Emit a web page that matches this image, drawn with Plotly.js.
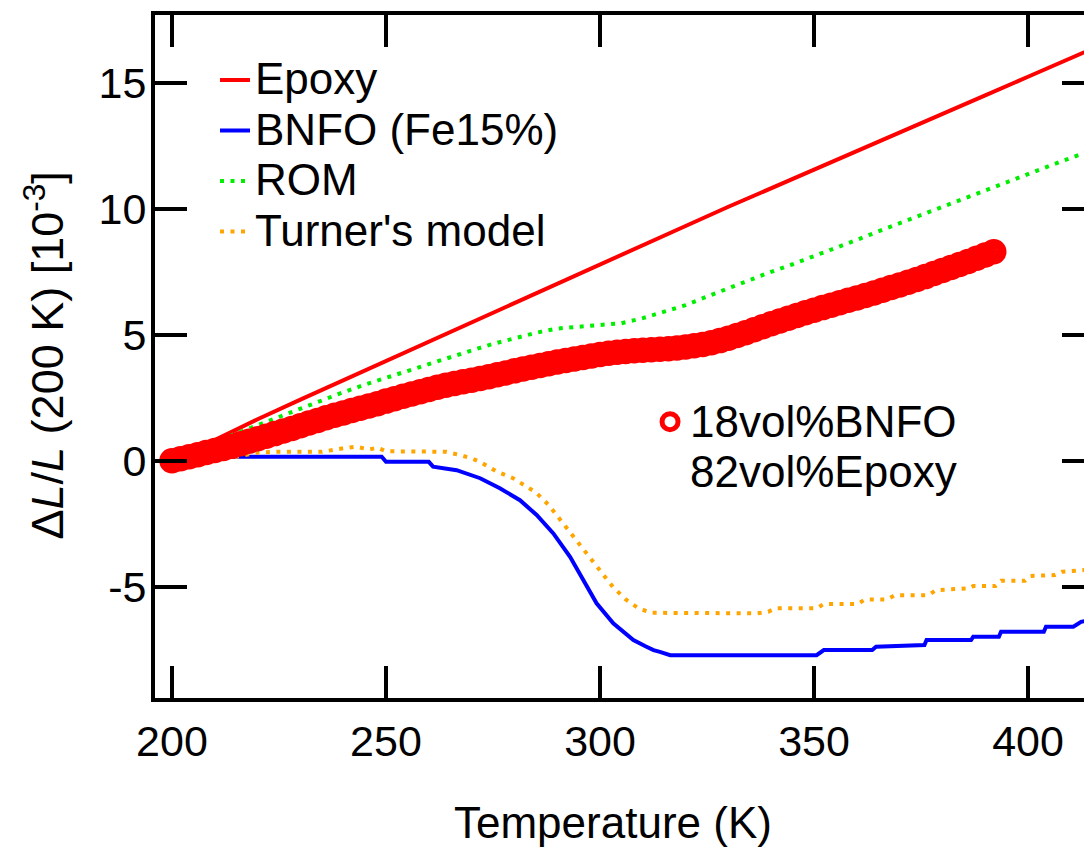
<!DOCTYPE html>
<html><head><meta charset="utf-8">
<script src="https://cdn.plot.ly/plotly-3.0.1.min.js"></script>
<style>html,body{margin:0;padding:0;overflow:hidden;background:#fff}</style>
</head><body><div id="chart" style="width:1100px;height:847px"></div>
<script>
// ---- data ----
const epoxyT = [200,205,210,220,230,240,250,260,270,280,290,300,310,320,330,340,350,360,370,380,390,400,410,416];
const epoxyV = [0,0.42,0.85,1.65,2.43,3.20,3.96,4.72,5.50,6.28,7.04,7.79,8.56,9.32,10.08,10.81,11.55,12.29,13.03,13.76,14.50,15.24,15.97,16.42];

const bnfoT = [200,205,249,250,260,261,266.5,269,272,276.6,281.3,285.2,289.1,293,296.1,299.2,303.1,307.8,310.5,312.5,314,316.4,350.6,352.3,363.6,364.5,375.8,376.3,386.7,387.2,393.2,393.7,403.7,404.2,410.6,412.4,414];
const bnfoV = [0,0.16,0.16,-0.04,-0.04,-0.23,-0.37,-0.5,-0.69,-1.09,-1.56,-2.15,-2.88,-3.81,-4.73,-5.65,-6.45,-7.11,-7.35,-7.51,-7.58,-7.71,-7.71,-7.51,-7.51,-7.38,-7.31,-7.11,-7.11,-6.98,-6.98,-6.78,-6.78,-6.58,-6.58,-6.39,-6.33];

const romT = [200,205,210,215,220,225,230,235,240,245,250,255,260,265,270,275,280,285,290,295,300,305,310,315,320,325,330,335,340,345,350,355,360,365,370,375,380,385,390,395,400,405,410,416];
const romV = [0,0.38,0.74,1.09,1.42,1.76,2.09,2.42,2.72,3.02,3.30,3.58,3.85,4.12,4.38,4.64,4.87,5.08,5.25,5.33,5.38,5.46,5.66,5.90,6.18,6.52,6.86,7.20,7.50,7.80,8.11,8.44,8.77,9.10,9.44,9.76,10.08,10.40,10.74,11.06,11.38,11.70,12.00,12.40];

const turnerT = [200,205,210,215,220,225,230,235,240,243,246,248,250,255,260,264,267.3,270,272,275.9,279.7,282,285,288,291,294,297,300,303,306,309,312,336.7,339.3,341,350.6,352.3,360.2,361.9,367.1,368.9,376.7,378.5,386.3,387.2,392.4,393.7,399.3,400.6,406.3,408,414];
const turnerV = [0,0.07,0.14,0.16,0.33,0.36,0.36,0.36,0.5,0.56,0.45,0.52,0.38,0.36,0.36,0.36,0.23,0.1,-0.04,-0.43,-0.69,-0.92,-1.25,-1.75,-2.4,-3.05,-3.75,-4.4,-5.0,-5.5,-5.85,-6.03,-6.05,-5.99,-5.85,-5.85,-5.68,-5.68,-5.5,-5.5,-5.33,-5.33,-5.13,-5.06,-4.97,-4.97,-4.76,-4.76,-4.57,-4.53,-4.4,-4.32];

const compT = [200,202,204,206,208,210,212,214,216,218,220,222,224,226,228,230,232,234,236,238,240,242,244,246,248,250,252,254,256,258,260,262,264,266,268,270,272,274,276,278,280,282,284,286,288,290,292,294,296,298,300,302,304,306,308,310,312,314,316,318,320,322,324,326,328,330,332,334,336,338,340,342,344,346,348,350,352,354,356,358,360,362,364,366,368,370,372,374,376,378,380,382,384,386,388,390,392];
const compV = [0.00,0.08,0.16,0.24,0.33,0.41,0.49,0.58,0.68,0.78,0.88,0.98,1.08,1.18,1.28,1.39,1.50,1.60,1.71,1.81,1.90,2.00,2.09,2.18,2.27,2.37,2.46,2.56,2.65,2.74,2.83,2.92,3.00,3.07,3.14,3.20,3.27,3.34,3.42,3.49,3.57,3.64,3.71,3.78,3.85,3.92,3.98,4.04,4.10,4.16,4.22,4.27,4.31,4.34,4.37,4.39,4.41,4.43,4.45,4.48,4.52,4.57,4.62,4.69,4.77,4.86,4.97,5.08,5.20,5.32,5.44,5.55,5.66,5.77,5.88,5.98,6.08,6.17,6.27,6.37,6.46,6.56,6.66,6.77,6.88,6.98,7.09,7.20,7.31,7.43,7.55,7.67,7.79,7.91,8.04,8.17,8.30];

const xTicks = [200,250,300,350,400];
const yTicks = [-5,0,5,10,15];
const yTickLabels = ['-5','0','5','10','15'];

const FONT = 'Liberation Sans, Arial, sans-serif';
const big = s => '<span style="font-size:44px">' + s + '</span>';

const traces = [
  {x: epoxyT, y: epoxyV, mode: 'lines', name: big('Epoxy'),
   line: {color: '#FF0000', width: 4}},
  {x: bnfoT, y: bnfoV, mode: 'lines', name: big('BNFO (Fe15%)'),
   line: {color: '#0000FF', width: 4}},
  {x: romT, y: romV, mode: 'lines', name: big('ROM'),
   line: {color: '#00EE00', width: 4, dash: '4px,6.5px'}},
  {x: turnerT, y: turnerV, mode: 'lines', name: big("Turner's model"),
   line: {color: '#FFA500', width: 4, dash: '4px,6.5px'}},
  {x: compT, y: compV, mode: 'markers', name: big('18vol%BNFO') + '<br>' + big('82vol%Epoxy'),
   legend: 'legend2',
   marker: {symbol: 'circle-open', size: 16, color: '#FF0000', line: {width: 9.5, color: '#FF0000'}}}
];

const axisCommon = {
  ticks: 'inside', ticklen: 32, tickwidth: 3.5, tickcolor: '#000',
  showline: true, linewidth: 4, linecolor: '#000', mirror: 'ticks',
  showgrid: false, zeroline: false,
  tickfont: {family: FONT, size: 43, color: '#000'}
};

const layout = {
  width: 1100, height: 847,
  margin: {l: 155, r: 6, t: 15, b: 149},
  paper_bgcolor: '#fff', plot_bgcolor: '#fff',
  font: {family: FONT, color: '#000'},
  xaxis: Object.assign({}, axisCommon, {range: [196.03, 415.42], tickvals: xTicks, ticklabelstandoff: 2}),
  yaxis: Object.assign({}, axisCommon, {range: [-9.41, 17.69], tickvals: yTicks, ticktext: yTickLabels, ticklabelstandoff: -4}),
  legend: {x: 0.0639, y: 0.949, xanchor: 'left', yanchor: 'top', bgcolor: 'rgba(0,0,0,0)',
           borderwidth: 0, font: {family: FONT, size: 36.5, color: '#000'}},
  legend2: {x: 0.5272, y: 0.4508, xanchor: 'left', yanchor: 'top', bgcolor: 'rgba(0,0,0,0)',
            borderwidth: 0, valign: 'top', font: {family: FONT, size: 38.5, color: '#000'}},
  annotations: [
    {text: 'Temperature (K)', xref: 'paper', yref: 'paper', x: 0.4878, y: -0.1816,
     xanchor: 'center', yanchor: 'middle', showarrow: false, font: {family: FONT, size: 44, color: '#000'}},
    {text: 'Δ<i>L</i>/<i>L</i> (200 K) [10<sup>-3</sup>]', xref: 'paper', yref: 'paper', x: -0.1171, y: 0.5015,
     xanchor: 'center', yanchor: 'middle', textangle: -90, showarrow: false, font: {family: FONT, size: 45, color: '#000'}}
  ]
};

Plotly.newPlot('chart', traces, layout, {displayModeBar: false, staticPlot: true});
</script></body></html>
